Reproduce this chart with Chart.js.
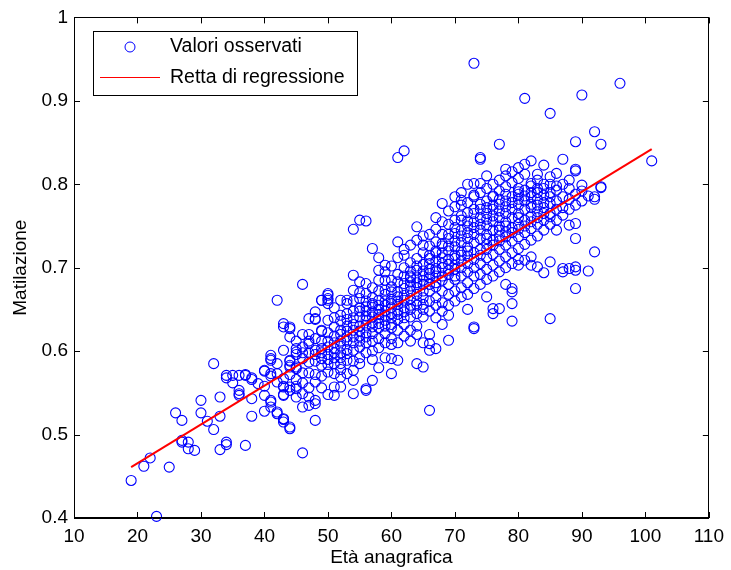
<!DOCTYPE html>
<html>
<head>
<meta charset="utf-8">
<script src="https://cdn.jsdelivr.net/npm/chart.js@4"></script>
<style>
  html, body { margin: 0; padding: 0; background: #fff; }
  canvas { display: block; }
</style>
</head>
<body>
<canvas id="grafico" width="731" height="570"></canvas>
<script>
// eta (anni) e valori osservati per ogni eta
const eta = [
  19, 21, 22, 23, 25, 26, 27, 28, 29, 30, 31, 32, 33, 34, 35, 36, 37, 38, 39,
  40, 41, 42, 43, 44, 45, 46, 47, 48, 49, 50, 51, 52, 53, 54, 55, 56, 57, 58, 59,
  60, 61, 62, 63, 64, 65, 66, 67, 68, 69, 70, 71, 72, 73, 74, 75, 76, 77, 78, 79,
  80, 81, 82, 83, 84, 85, 86, 87, 88, 89, 90, 91, 92, 93, 96, 101
];
const valoriPerEta = [
  [0.445],                                   // 19
  [0.462],                                   // 21
  [0.472],                                   // 22
  [0.402],                                   // 23
  [0.461],                                   // 25
  [0.526],                                   // 26
  [0.517, 0.491, 0.493],                     // 27
  [0.483, 0.491],                            // 28
  [0.481],                                   // 29
  [0.541, 0.526],                            // 30
  [0.516],                                   // 31
  [0.585, 0.506],                            // 32
  [0.545, 0.522, 0.482],                     // 33
  [0.491, 0.488, 0.571, 0.568],              // 34
  [0.562, 0.571],                            // 35
  [0.571, 0.549, 0.547, 0.553],              // 36
  [0.572, 0.487, 0.571],                     // 37
  [0.568, 0.543, 0.522, 0.566],              // 38
  [0.561],                                   // 39
  [0.576, 0.558, 0.528, 0.547, 0.577],       // 40
  [0.591, 0.595, 0.570, 0.539, 0.533, 0.589, 0.573, 0.541], // 41
  [0.527, 0.661, 0.573, 0.525, 0.585, 0.563], // 42
  [0.601, 0.518, 0.548, 0.558, 0.633, 0.519, 0.567, 0.557, 0.547, 0.515, 0.629], // 43
  [0.509, 0.588, 0.572, 0.629, 0.617, 0.589, 0.583, 0.553, 0.581, 0.557, 0.507, 0.627], // 44
  [0.596, 0.558, 0.545, 0.599, 0.581, 0.555, 0.603, 0.579, 0.566, 0.612], // 45
  [0.478, 0.680, 0.605, 0.549, 0.533, 0.591, 0.620, 0.574, 0.562, 0.598], // 46
  [0.609, 0.639, 0.545, 0.535, 0.587, 0.620, 0.574, 0.598, 0.556, 0.612], // 47
  [0.647, 0.638, 0.537, 0.541, 0.517, 0.639, 0.601, 0.588, 0.572, 0.615, 0.563, 0.596], // 48
  [0.661, 0.625, 0.661, 0.603, 0.591, 0.583, 0.612, 0.570, 0.624, 0.598, 0.556], // 49
  [0.669, 0.663, 0.657, 0.667, 0.661, 0.612, 0.596, 0.584, 0.622, 0.605, 0.575, 0.637, 0.548, 0.590], // 50
  [0.557, 0.547, 0.629, 0.610, 0.598, 0.585, 0.618, 0.640, 0.573, 0.603, 0.592, 0.652], // 51
  [0.585, 0.569, 0.557, 0.661, 0.636, 0.620, 0.606, 0.598, 0.612, 0.625, 0.643, 0.592, 0.578], // 52
  [0.573, 0.661, 0.617, 0.602, 0.630, 0.645, 0.589, 0.612, 0.624, 0.638, 0.597, 0.657], // 53
  [0.549, 0.565, 0.577, 0.746, 0.691, 0.673, 0.632, 0.610, 0.648, 0.625, 0.601, 0.617, 0.588, 0.660, 0.640], // 54
  [0.757, 0.683, 0.652, 0.630, 0.618, 0.641, 0.605, 0.663, 0.592, 0.624, 0.648, 0.612, 0.585, 0.670], // 55
  [0.555, 0.553, 0.756, 0.681, 0.637, 0.622, 0.648, 0.610, 0.660, 0.631, 0.598, 0.653, 0.617, 0.642, 0.669], // 56
  [0.565, 0.723, 0.655, 0.634, 0.612, 0.647, 0.621, 0.676, 0.641, 0.600, 0.664, 0.629, 0.590, 0.657], // 57
  [0.712, 0.672, 0.650, 0.628, 0.640, 0.661, 0.615, 0.685, 0.604, 0.644, 0.633, 0.655, 0.580, 0.697], // 58
  [0.695, 0.685, 0.660, 0.637, 0.648, 0.621, 0.673, 0.610, 0.655, 0.643, 0.668, 0.630, 0.592, 0.703], // 59
  [0.573, 0.591, 0.671, 0.652, 0.640, 0.662, 0.628, 0.685, 0.645, 0.615, 0.677, 0.632, 0.657, 0.702, 0.608], // 60
  [0.731, 0.589, 0.832, 0.665, 0.648, 0.683, 0.656, 0.638, 0.671, 0.625, 0.692, 0.644, 0.660, 0.712, 0.610], // 61
  [0.722, 0.840, 0.675, 0.652, 0.690, 0.661, 0.640, 0.681, 0.632, 0.700, 0.667, 0.647, 0.715, 0.618], // 62
  [0.690, 0.672, 0.655, 0.683, 0.641, 0.706, 0.663, 0.625, 0.696, 0.678, 0.650, 0.727, 0.612, 0.688], // 63
  [0.749, 0.585, 0.697, 0.676, 0.660, 0.688, 0.645, 0.711, 0.668, 0.630, 0.702, 0.682, 0.655, 0.733, 0.620], // 64
  [0.581, 0.690, 0.672, 0.704, 0.656, 0.718, 0.680, 0.641, 0.696, 0.664, 0.727, 0.685, 0.650, 0.738, 0.610], // 65
  [0.529, 0.609, 0.601, 0.705, 0.688, 0.672, 0.715, 0.660, 0.726, 0.693, 0.648, 0.711, 0.680, 0.740, 0.620, 0.698], // 66
  [0.603, 0.699, 0.682, 0.718, 0.664, 0.731, 0.690, 0.655, 0.708, 0.677, 0.746, 0.640, 0.720, 0.695, 0.760], // 67
  [0.777, 0.712, 0.690, 0.726, 0.672, 0.740, 0.700, 0.658, 0.718, 0.685, 0.755, 0.632, 0.729, 0.705, 0.648], // 68
  [0.613, 0.643, 0.720, 0.697, 0.735, 0.680, 0.752, 0.710, 0.668, 0.726, 0.692, 0.768, 0.655, 0.740, 0.704], // 69
  [0.725, 0.703, 0.741, 0.686, 0.757, 0.715, 0.672, 0.732, 0.698, 0.773, 0.660, 0.748, 0.711, 0.690, 0.785], // 70
  [0.775, 0.757, 0.781, 0.730, 0.708, 0.745, 0.690, 0.762, 0.720, 0.676, 0.738, 0.700, 0.790, 0.665, 0.715], // 71
  [0.735, 0.714, 0.750, 0.695, 0.766, 0.725, 0.682, 0.742, 0.705, 0.778, 0.668, 0.756, 0.720, 0.650, 0.800], // 72
  [0.945, 0.629, 0.627, 0.801, 0.787, 0.785, 0.740, 0.718, 0.755, 0.700, 0.770, 0.730, 0.690, 0.748, 0.710, 0.765, 0.675], // 73
  [0.830, 0.832, 0.801, 0.745, 0.722, 0.760, 0.705, 0.776, 0.735, 0.692, 0.752, 0.715, 0.790, 0.680, 0.770], // 74
  [0.665, 0.750, 0.728, 0.765, 0.712, 0.780, 0.740, 0.698, 0.758, 0.722, 0.795, 0.686, 0.772, 0.735, 0.810], // 75
  [0.785, 0.645, 0.651, 0.755, 0.733, 0.770, 0.716, 0.786, 0.745, 0.703, 0.762, 0.727, 0.800, 0.690, 0.775], // 76
  [0.848, 0.651, 0.760, 0.738, 0.776, 0.722, 0.792, 0.750, 0.708, 0.768, 0.732, 0.805, 0.695, 0.782, 0.745], // 77
  [0.765, 0.743, 0.780, 0.727, 0.797, 0.755, 0.713, 0.773, 0.737, 0.810, 0.700, 0.788, 0.750, 0.680, 0.818], // 78
  [0.636, 0.657, 0.671, 0.675, 0.770, 0.748, 0.785, 0.732, 0.802, 0.760, 0.718, 0.778, 0.742, 0.815, 0.705], // 79
  [0.795, 0.791, 0.703, 0.775, 0.752, 0.788, 0.737, 0.807, 0.765, 0.723, 0.782, 0.746, 0.820, 0.710, 0.760], // 80
  [0.903, 0.709, 0.780, 0.757, 0.793, 0.742, 0.812, 0.770, 0.728, 0.786, 0.750, 0.824], // 81
  [0.801, 0.703, 0.713, 0.785, 0.762, 0.798, 0.747, 0.772, 0.733, 0.790, 0.755, 0.828, 0.776], // 82
  [0.805, 0.701, 0.790, 0.767, 0.782, 0.752, 0.795, 0.738, 0.775, 0.760, 0.812], // 83
  [0.823, 0.694, 0.795, 0.772, 0.787, 0.757, 0.778, 0.745, 0.800, 0.765], // 84
  [0.885, 0.809, 0.761, 0.765, 0.707, 0.639, 0.790, 0.777, 0.752, 0.800, 0.785], // 85
  [0.813, 0.757, 0.793, 0.780, 0.770, 0.798, 0.745], // 86
  [0.830, 0.763, 0.699, 0.695, 0.785, 0.772, 0.800], // 87
  [0.795, 0.751, 0.699, 0.782, 0.770, 0.805],  // 88
  [0.818, 0.816, 0.851, 0.753, 0.735, 0.701, 0.675, 0.697, 0.788, 0.775], // 89
  [0.907, 0.799, 0.780, 0.792],              // 90
  [0.696, 0.786],                            // 91
  [0.863, 0.785, 0.782, 0.719],              // 92
  [0.848, 0.797, 0.796],                     // 93
  [0.921],                                   // 96
  [0.828]                                    // 101
];

// retta di regressione (estremi)
const rettaEta = [19, 101];
const rettaValori = [0.461, 0.842];

const tickEta = [10, 20, 30, 40, 50, 60, 70, 80, 90, 100, 110];
const tickMatilazione = [0.4, 0.5, 0.6, 0.7, 0.8, 0.9, 1];

const etichette = ['Valori osservati', 'Retta di regressione'];

const FONT = 'Liberation Sans, Arial, Helvetica, sans-serif';
const BLU = '#0000ff';
const ROSSO = '#ff0000';

const puntiOsservati = [];
eta.forEach((e, i) => {
  valoriPerEta[i].forEach(v => puntiOsservati.push({ x: e, y: v }));
});
const puntiRetta = rettaEta.map((e, i) => ({ x: e, y: rettaValori[i] }));

// cornice, tacche interne e legenda in stile MATLAB
const stileMatlab = {
  id: 'stileMatlab',
  afterDraw(chart) {
    const { ctx, chartArea: a, scales } = chart;
    ctx.save();
    ctx.strokeStyle = '#000';
    ctx.lineWidth = 1;
    ctx.strokeRect(Math.round(a.left) + 0.5, Math.round(a.top) + 0.5,
      Math.round(a.right - a.left) - 1, Math.round(a.bottom - a.top) - 1);

    const tl = 6;
    ctx.beginPath();
    tickEta.forEach(t => {
      const px = Math.round(scales.x.getPixelForValue(t)) + 0.5;
      ctx.moveTo(px, a.bottom); ctx.lineTo(px, a.bottom - tl);
      ctx.moveTo(px, a.top); ctx.lineTo(px, a.top + tl);
    });
    tickMatilazione.forEach(t => {
      const py = Math.round(scales.y.getPixelForValue(t)) + 0.5;
      ctx.moveTo(a.left, py); ctx.lineTo(a.left + tl, py);
      ctx.moveTo(a.right, py); ctx.lineTo(a.right - tl, py);
    });
    ctx.stroke();

    // legenda
    const lx = 93.5, ly = 31.5, lw = 264, lh = 64;
    ctx.fillStyle = '#fff';
    ctx.fillRect(lx, ly, lw, lh);
    ctx.strokeStyle = '#000';
    ctx.strokeRect(lx, ly, lw, lh);

    const dsPunti = chart.data.datasets[1];
    const dsRetta = chart.data.datasets[0];
    ctx.strokeStyle = dsPunti.borderColor;
    ctx.lineWidth = 1;
    ctx.beginPath();
    ctx.arc(130, 47, dsPunti.pointRadius, 0, Math.PI * 2);
    ctx.stroke();

    ctx.strokeStyle = dsRetta.borderColor;
    ctx.beginPath();
    ctx.moveTo(100, 77.5); ctx.lineTo(160, 77.5);
    ctx.stroke();

    ctx.fillStyle = '#000';
    ctx.font = '19.5px ' + FONT;
    ctx.textBaseline = 'middle';
    ctx.textAlign = 'left';
    ctx.fillText(dsPunti.label, 170, 47);
    ctx.fillText(dsRetta.label, 170, 78);
    ctx.restore();
  }
};

new Chart(document.getElementById('grafico'), {
  type: 'scatter',
  data: {
    datasets: [
      {
        type: 'line',
        label: etichette[1],
        data: puntiRetta,
        borderColor: ROSSO,
        borderWidth: 2,
        pointRadius: 0,
        fill: false,
        order: 0
      },
      {
        label: etichette[0],
        data: puntiOsservati,
        pointStyle: 'circle',
        pointRadius: 5,
        pointBorderWidth: 1.1,
        borderColor: BLU,
        pointBorderColor: BLU,
        pointBackgroundColor: 'rgba(0,0,0,0)',
        backgroundColor: 'rgba(0,0,0,0)',
        clip: false,
        order: 1
      }
    ]
  },
  options: {
    responsive: false,
    animation: false,
    devicePixelRatio: 1,
    layout: { padding: { left: 0, right: 17, top: 17, bottom: 0 } },
    plugins: {
      legend: { display: false },
      tooltip: { enabled: false }
    },
    scales: {
      x: {
        type: 'linear',
        min: 10,
        max: 110,
        afterBuildTicks: s => { s.ticks = tickEta.map(v => ({ value: v })); },
        afterFit: s => { s.height = 52; },
        grid: { display: false, drawTicks: false },
        border: { display: true, color: '#000', width: 1 },
        ticks: {
          color: '#000',
          padding: 7,
          maxRotation: 0,
          font: { family: FONT, size: 19 },
          callback: v => String(v)
        },
        title: {
          display: true,
          text: 'Età anagrafica',
          color: '#000',
          font: { family: FONT, size: 19 },
          padding: { top: 0, bottom: 1 }
        }
      },
      y: {
        type: 'linear',
        min: 0.4,
        max: 1,
        afterBuildTicks: s => { s.ticks = tickMatilazione.map(v => ({ value: v })); },
        afterFit: s => { s.width = 74; },
        grid: { display: false, drawTicks: false },
        border: { display: true, color: '#000', width: 1 },
        ticks: {
          color: '#000',
          padding: 6,
          font: { family: FONT, size: 19 },
          callback: v => String(+v.toFixed(1))
        },
        title: {
          display: true,
          text: 'Matilazione',
          color: '#000',
          font: { family: FONT, size: 19 },
          padding: { top: 9, bottom: 0 }
        }
      }
    }
  },
  plugins: [stileMatlab]
});
</script>
</body>
</html>
